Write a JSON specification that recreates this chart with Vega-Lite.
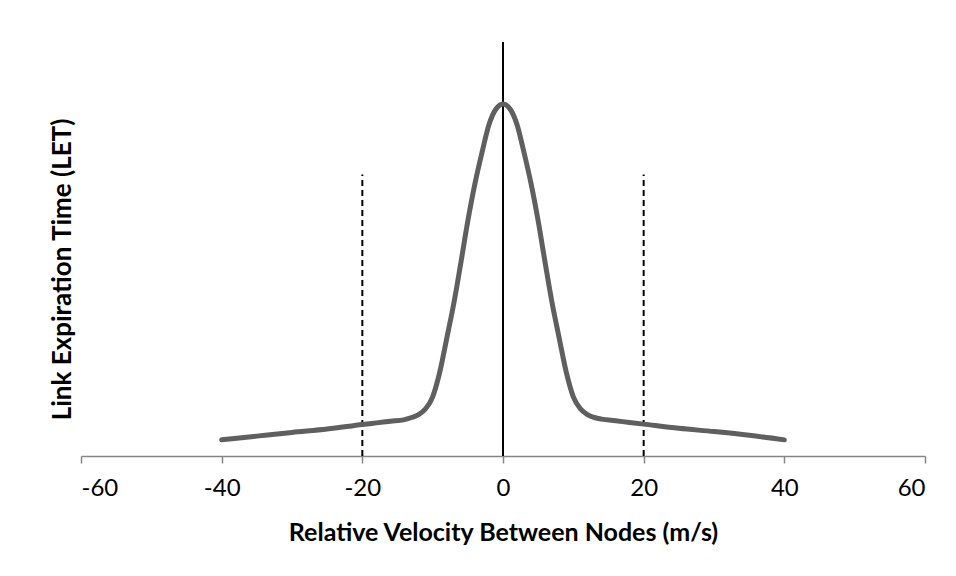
{
  "$schema": "https://vega.github.io/schema/vega-lite/v6.json",
  "width": 844,
  "height": 414,
  "autosize": {"type": "none"},
  "padding": {"left": 81, "top": 42, "right": 31, "bottom": 120},
  "background": "white",
  "config": {"view": {"stroke": null}, "font": "Lato"},
  "datasets": {
    "curve": [
      {"v": -40, "let": 0.39}, {"v": -35, "let": 0.48}, {"v": -30, "let": 0.57},
      {"v": -25, "let": 0.65}, {"v": -20, "let": 0.76}, {"v": -18, "let": 0.8},
      {"v": -16, "let": 0.84}, {"v": -14, "let": 0.88}, {"v": -13, "let": 0.93},
      {"v": -12, "let": 1.0}, {"v": -11, "let": 1.14}, {"v": -10, "let": 1.43},
      {"v": -9, "let": 2.02}, {"v": -8, "let": 2.84}, {"v": -7, "let": 3.68},
      {"v": -6, "let": 4.66}, {"v": -5, "let": 5.68}, {"v": -4, "let": 6.57},
      {"v": -3, "let": 7.32}, {"v": -2, "let": 8.0}, {"v": -1, "let": 8.38},
      {"v": 0, "let": 8.5},
      {"v": 1, "let": 8.38}, {"v": 2, "let": 8.0}, {"v": 3, "let": 7.32},
      {"v": 4, "let": 6.57}, {"v": 5, "let": 5.68}, {"v": 6, "let": 4.66},
      {"v": 7, "let": 3.68}, {"v": 8, "let": 2.84}, {"v": 9, "let": 2.02},
      {"v": 10, "let": 1.43}, {"v": 11, "let": 1.14}, {"v": 12, "let": 1.0},
      {"v": 13, "let": 0.93}, {"v": 14, "let": 0.89}, {"v": 16, "let": 0.85},
      {"v": 18, "let": 0.81}, {"v": 20, "let": 0.77}, {"v": 25, "let": 0.67},
      {"v": 30, "let": 0.59}, {"v": 35, "let": 0.5}, {"v": 40, "let": 0.39}
    ],
    "center": [{"v": 0, "bottom": 0, "top": 10}],
    "bounds": [{"v": -20, "bottom": 0, "top": 6.8}, {"v": 20, "bottom": 0, "top": 6.8}]
  },
  "layer": [
    {
      "data": {"name": "bounds"},
      "mark": {"type": "rule", "color": "black", "strokeWidth": 2, "strokeDash": [6, 4]},
      "encoding": {
        "x": {"field": "v", "type": "quantitative"},
        "y": {"field": "bottom", "type": "quantitative"},
        "y2": {"field": "top"}
      }
    },
    {
      "data": {"name": "center"},
      "mark": {"type": "rule", "color": "black", "strokeWidth": 2},
      "encoding": {
        "x": {"field": "v", "type": "quantitative"},
        "y": {"field": "bottom", "type": "quantitative"},
        "y2": {"field": "top"}
      }
    },
    {
      "data": {"name": "curve"},
      "mark": {"type": "line", "color": "#5f5f5f", "strokeWidth": 5, "interpolate": "monotone", "strokeCap": "round"},
      "encoding": {
        "x": {
          "field": "v", "type": "quantitative",
          "scale": {"domain": [-60, 60], "nice": false, "zero": false},
          "axis": {
            "values": [-60, -40, -20, 0, 20, 40, 60],
            "labelExpr": "'' + datum.value",
            "title": "Relative Velocity Between Nodes (m/s)",
            "grid": false,
            "domainColor": "#868686", "domainWidth": 1.5,
            "tickColor": "#868686", "tickWidth": 1.5, "tickSize": 7,
            "labelFont": "Lato", "labelFontSize": 24, "labelColor": "black",
            "labelPadding": 13, "labelBaseline": "top",
            "titleFont": "Lato", "titleFontSize": 25, "titleFontWeight": "bold", "titleColor": "black",
            "titleBaseline": "middle", "titleY": 76
          }
        },
        "y": {
          "field": "let", "type": "quantitative",
          "scale": {"domain": [0, 10], "nice": false},
          "axis": {
            "title": "Link Expiration Time (LET)",
            "labels": false, "ticks": false, "domain": false, "grid": false,
            "titleFont": "Lato", "titleFontSize": 26, "titleFontWeight": "bold", "titleColor": "black",
            "titleAngle": -90, "titleBaseline": "middle", "titleAlign": "center",
            "titleX": -19, "titleY": 227
          }
        }
      }
    }
  ]
}
